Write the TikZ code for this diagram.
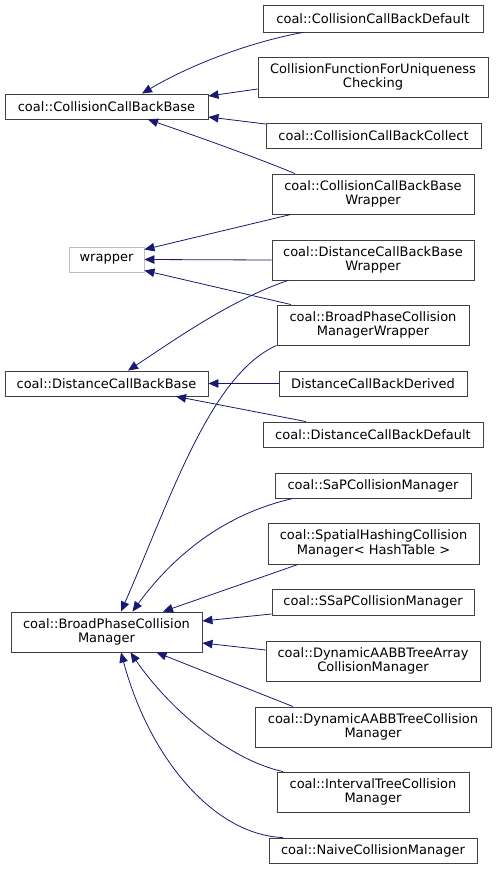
\documentclass[tikz,border=0pt]{standalone}
\usepackage{fontspec}
\setmainfont{DejaVu Sans}
\usetikzlibrary{arrows.meta}
\definecolor{edgec}{HTML}{191970}
\definecolor{boxc}{HTML}{404040}
\definecolor{grayc}{HTML}{BFBFBF}
\begin{document}
\begin{tikzpicture}[x=1pt,y=-1pt,
  box/.style={draw=boxc, line width=0.9pt, inner sep=0pt, align=center,
    font=\fontsize{13}{14.5}\selectfont},
  graybox/.style={box, draw=grayc},
  inh/.style={draw=edgec, line width=0.8pt, {Triangle[length=10pt,width=8.5pt]}-}]
\fill[white] (0,0) rectangle (496,869);
\useasboundingbox (0,0) rectangle (496,869);
% nodes
\node[box, minimum width=220pt, minimum height=27pt] (ccbdef) at (373,18.5) {coal::CollisionCallBackDefault};
\node[box, minimum width=230pt, minimum height=40pt] (cffuc) at (373,77) {CollisionFunctionForUniqueness\\Checking};
\node[box, minimum width=203pt, minimum height=25pt] (ccbbase) at (106.5,106.5) {coal::CollisionCallBackBase};
\node[box, minimum width=215pt, minimum height=25pt] (ccbcol) at (373.5,135.5) {coal::CollisionCallBackCollect};
\node[box, minimum width=202pt, minimum height=40pt] (ccbbw) at (373,194) {coal::CollisionCallBackBase\\Wrapper};
\node[graybox, minimum width=75pt, minimum height=25pt] (wrapper) at (106.5,259.5) {wrapper};
\node[box, minimum width=202pt, minimum height=40pt] (dcbbw) at (373,260) {coal::DistanceCallBackBase\\Wrapper};
\node[box, minimum width=192pt, minimum height=40pt] (bpcmw) at (373,325) {coal::BroadPhaseCollision\\ManagerWrapper};
\node[box, minimum width=203pt, minimum height=25pt] (dcbbase) at (106.5,383.5) {coal::DistanceCallBackBase};
\node[box, minimum width=188pt, minimum height=25pt] (dcbder) at (373,383.5) {DistanceCallBackDerived};
\node[box, minimum width=220pt, minimum height=25pt] (dcbdef) at (373,434.5) {coal::DistanceCallBackDefault};
\node[box, minimum width=196pt, minimum height=25pt] (sap) at (373,485.5) {coal::SaPCollisionManager};
\node[box, minimum width=211pt, minimum height=41pt] (spatial) at (373.5,543.5) {coal::SpatialHashingCollision\\Manager< HashTable >};
\node[box, minimum width=202pt, minimum height=26pt] (ssap) at (373,602) {coal::SSaPCollisionManager};
\node[box, minimum width=191pt, minimum height=40pt] (bpcm) at (106.5,632) {coal::BroadPhaseCollision\\Manager};
\node[box, minimum width=214pt, minimum height=40pt] (dynarr) at (373,661) {coal::DynamicAABBTreeArray\\CollisionManager};
\node[box, minimum width=236pt, minimum height=40pt] (dyntree) at (373,727) {coal::DynamicAABBTreeCollision\\Manager};
\node[box, minimum width=192pt, minimum height=40pt] (interval) at (373,792) {coal::IntervalTreeCollision\\Manager};
\node[box, minimum width=208pt, minimum height=25pt] (naive) at (373,850.5) {coal::NaiveCollisionManager};
% edges to CollisionCallBackBase
\draw[inh] ([xshift=35.5pt]ccbbase.north) .. controls (190,65) and (250,42) .. ([xshift=-70pt]ccbdef.south);
\draw[inh] ([yshift=10.5pt]ccbbase.east) -- ([yshift=-12pt]cffuc.west);
\draw[inh] ([yshift=-10.5pt]ccbbase.east) -- ([yshift=11.5pt]ccbcol.west);
\draw[inh] ([xshift=41.5pt]ccbbase.south) .. controls (190,134) and (250,155) .. ([xshift=-78pt]ccbbw.north);
% edges to wrapper
\draw[inh] ([yshift=10pt]wrapper.east) -- ([xshift=-82pt]ccbbw.south);
\draw[inh] (wrapper.east) -- (dcbbw.west);
\draw[inh] ([yshift=-11pt]wrapper.east) -- ([xshift=-82pt]bpcmw.north);
% edges to DistanceCallBackBase
\draw[inh] ([xshift=21.5pt]dcbbase.north) .. controls (170,343) and (230,300) .. ([xshift=-85pt]dcbbw.south);
\draw[inh] (dcbbase.east) -- (dcbder.west);
\draw[inh] ([xshift=69.5pt]dcbbase.south) -- ([xshift=-67pt]dcbdef.north);
% edges to BroadPhaseCollisionManager
\draw[inh] ([xshift=14.5pt]bpcm.north) .. controls (170,500) and (210,375) .. (bpcmw.south west);
\draw[inh] ([xshift=26pt]bpcm.north) .. controls (170,560) and (220,515) .. ([xshift=-80pt]sap.south);
\draw[inh] ([xshift=56.5pt]bpcm.north) -- ([xshift=-75.5pt]spatial.south);
\draw[inh] ([yshift=11pt]bpcm.east) -- ([yshift=-12pt]ssap.west);
\draw[inh] ([yshift=-11pt]bpcm.east) -- ([yshift=11pt]dynarr.west);
\draw[inh] ([xshift=50pt]bpcm.south) -- ([xshift=-80pt]dyntree.north);
\draw[inh] ([xshift=24pt]bpcm.south) .. controls (170,710) and (230,760) .. ([xshift=-90pt]interval.north);
\draw[inh] ([xshift=14.5pt]bpcm.south) .. controls (150,760) and (215,835) .. ([xshift=-90pt]naive.north);
\end{tikzpicture}
\end{document}
